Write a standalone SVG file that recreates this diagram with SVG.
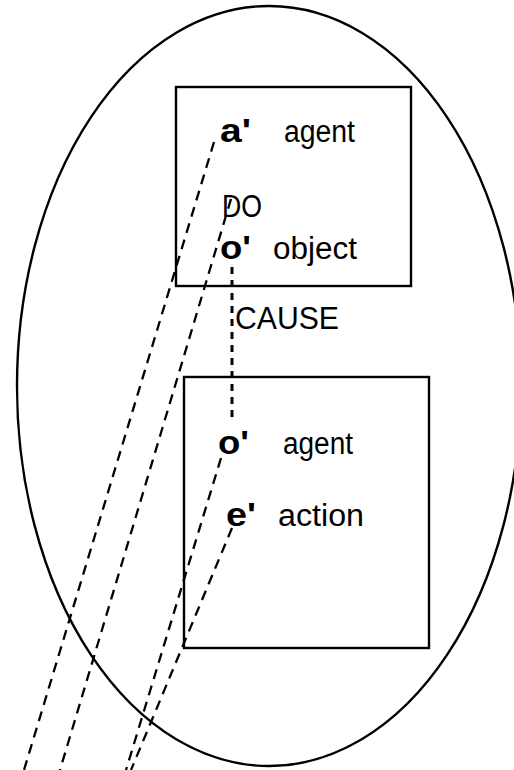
<svg xmlns="http://www.w3.org/2000/svg" width="514" height="770" viewBox="0 0 514 770">
<style>
.shape{fill:none;stroke:#000;stroke-width:2.4}
.dash{fill:none;stroke:#000;stroke-width:2.3;stroke-dasharray:10 7}
.vdash{fill:none;stroke:#000;stroke-width:3;stroke-dasharray:7 6}
.var{font-family:"Liberation Sans",Arial,sans-serif;font-weight:bold;font-size:33px;fill:#000}
.lbl{font-family:"Liberation Sans",Arial,sans-serif;font-size:31px;fill:#000}
.big{font-family:"Liberation Sans",Arial,sans-serif;font-size:32px;fill:#000}
</style>
<rect width="514" height="770" fill="#fff"/>
<g id="scope">
<ellipse class="shape" cx="269" cy="386" rx="252" ry="380"/>
</g>
<g id="box-do">
<rect class="shape" x="176" y="87" width="235" height="199"/>
<text class="var" x="220" y="142" textLength="31" lengthAdjust="spacingAndGlyphs">a'</text>
<text class="lbl" x="284" y="142" textLength="71" lengthAdjust="spacingAndGlyphs">agent</text>
<text class="big" x="222" y="217" textLength="40" lengthAdjust="spacingAndGlyphs">DO</text>
<text class="var" x="220" y="259" textLength="31" lengthAdjust="spacingAndGlyphs">o'</text>
<text class="lbl" x="273" y="259" textLength="84" lengthAdjust="spacingAndGlyphs">object</text>
</g>
<g id="cause">
<text class="big" x="235" y="329" textLength="104" lengthAdjust="spacingAndGlyphs">CAUSE</text>
</g>
<g id="box-action">
<rect class="shape" x="184" y="377" width="245" height="271"/>
<text class="var" x="218" y="454" textLength="31" lengthAdjust="spacingAndGlyphs">o'</text>
<text class="lbl" x="283" y="454" textLength="70" lengthAdjust="spacingAndGlyphs">agent</text>
<text class="var" x="226" y="526" textLength="30" lengthAdjust="spacingAndGlyphs">e'</text>
<text class="lbl" x="278" y="526" textLength="86" lengthAdjust="spacingAndGlyphs">action</text>
</g>
<g id="connectors">
<line class="dash" x1="214" y1="142" x2="24" y2="770"/>
<line class="dash" x1="231" y1="199" x2="60" y2="770"/>
<line class="vdash" x1="232" y1="267" x2="232" y2="420"/>
<line class="dash" x1="221" y1="458" x2="126" y2="770"/>
<line class="dash" x1="232" y1="528" x2="131" y2="770"/>
</g>
</svg>
